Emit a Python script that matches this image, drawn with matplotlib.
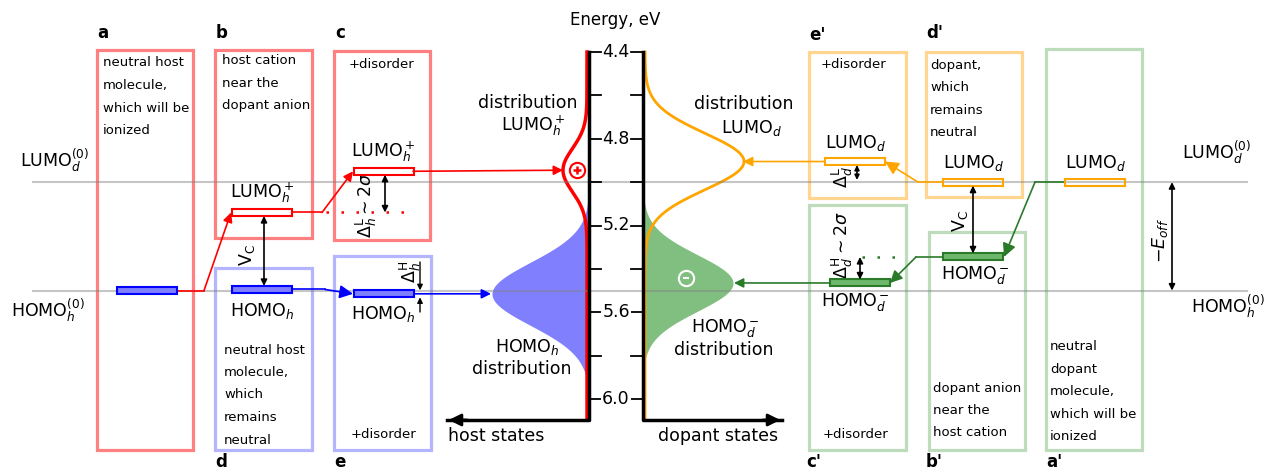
import numpy as np
import matplotlib.pyplot as plt
from matplotlib.patches import Rectangle

# reference levels (eV)
lumo_d0 = 5.0
homo_h0 = 5.5

# host levels, boxes a..e (eV)
host_homo_a = 5.5
host_lumo_b = 5.14
host_homo_d = 5.495
host_lumo_c = 4.95
host_homo_e = 5.515

# dopant levels, boxes a'..e' (eV)
dop_lumo_a = 5.0
dop_lumo_d = 5.0
dop_homo_b = 5.345
dop_lumo_e = 4.905
dop_homo_c = 5.465

# gaussian DOS: centre (eV), sigma (eV), peak width (px)
dos_lumo_h = (4.945, 0.10, 24)
dos_homo_h = (5.515, 0.145, 97)
dos_lumo_d = (4.905, 0.13, 99)
dos_homo_d = (5.465, 0.13, 90)

ticks = [4.4, 4.6, 4.8, 5.0, 5.2, 5.4, 5.6, 5.8, 6.0]
tick_labels = ['4.4', '', '4.8', '', '5.2', '', '5.6', '', '6.0']


def ey(py):
    # pixel row -> energy, used for layout only
    return 4.4 + (py - 52) / 216.875


fig = plt.figure(figsize=(12.65, 4.7), dpi=100)
ax = fig.add_axes([0, 0, 1, 1])
ax.set_xlim(0, 1265)
ax.set_ylim(ey(470), ey(0))
ax.axis('off')

RED = 'red'
BLUE = 'blue'
ORANGE = '#ffa500'
GREEN = '#2a7a2a'
FS = 12.5
FS_BOX = 9.5

xl, xr = 589, 643

# distributions
E = np.linspace(4.4, ey(420), 500)
g = lambda p: p[2] * np.exp(-(E - p[0]) ** 2 / (2 * p[1] ** 2))
ax.fill_betweenx(E, xl - g(dos_homo_h), xl, color='#8080ff', lw=0, zorder=1)
ax.fill_betweenx(E, xr, xr + g(dos_homo_d), color='#80bf80', lw=0, zorder=1)
ax.plot(xl - 2 - g(dos_lumo_h), E, color=RED, lw=2.5, zorder=2)
ax.plot(xr + 2 + g(dos_lumo_d), E, color=ORANGE, lw=2, zorder=2)

# reference lines
for lev in (lumo_d0, homo_h0):
    ax.plot([33, 1247], [lev, lev], color='gray', alpha=0.45, lw=1.5, zorder=3)

# energy axes
ax.plot([xl, xl, 447], [4.4, ey(420), ey(420)], color='k', lw=2.5, zorder=4)
ax.plot([xr, xr, 782], [4.4, ey(420), ey(420)], color='k', lw=2.5, zorder=4)
ax.annotate('', xy=(446, ey(420)), xytext=(470, ey(420)),
            arrowprops=dict(arrowstyle='-|>', color='k', lw=2, mutation_scale=18))
ax.annotate('', xy=(783, ey(420)), xytext=(760, ey(420)),
            arrowprops=dict(arrowstyle='-|>', color='k', lw=2, mutation_scale=18))
for t, lab in zip(ticks, tick_labels):
    ax.plot([xl, xl + 12], [t, t], color='k', lw=1.3, zorder=4)
    ax.plot([xr - 12, xr], [t, t], color='k', lw=1.3, zorder=4)
    if lab:
        ax.text(616, t, lab, fontsize=FS, ha='center', va='center', zorder=5,
                bbox=dict(fc='white', ec='none', pad=0.5))
ax.text(615, ey(20), 'Energy, eV', fontsize=FS - 0.5, ha='center', va='center')
ax.text(448, ey(436), 'host states', fontsize=FS, ha='left', va='center')
ax.text(658, ey(436), 'dopant states', fontsize=FS, ha='left', va='center')

# charge markers
ax.plot(577, ey(170), 'o', ms=11, mfc='white', mec=RED, mew=1.5, zorder=6)
ax.plot(577, ey(170), '+', ms=6, color=RED, mew=1.8, zorder=7)
ax.plot(686, ey(278), 'o', ms=11, mfc='none', mec='white', mew=1.5, zorder=6)
ax.plot(686, ey(278), '_', ms=4, color='white', mew=1.5, zorder=7)

# boxes: left, top, right, bottom (px), colour, letter, letter position
boxes = [
    (97, 50, 193, 450, '#ff8080', 'a', (103, 33)),
    (215, 50, 312, 238, '#ff8080', 'b', (222, 33)),
    (215, 268, 312, 450, '#b4b4ff', 'd', (221, 462)),
    (334, 51, 430, 240, '#ff8080', 'c', (340, 33)),
    (334, 256, 431, 450, '#b4b4ff', 'e', (340, 462)),
    (809, 52, 906, 198, '#ffd590', "e'", (817, 35)),
    (809, 205, 906, 450, '#bcdcbc', "c'", (814, 462)),
    (926, 52, 1022, 197, '#ffd590', "d'", (935, 33)),
    (929, 232, 1025, 450, '#bcdcbc', "b'", (934, 462)),
    (1046, 49, 1142, 450, '#bcdcbc', "a'", (1054, 462)),
]
for x0, y0, x1, y1, c, let, (lx, ly) in boxes:
    ax.add_patch(Rectangle((x0, ey(y0)), x1 - x0, ey(y1) - ey(y0), fill=False,
                           ec=c, lw=2.3, zorder=2))
    ax.text(lx, ey(ly), let, fontsize=12, fontweight='bold', ha='center', va='center')


def lines(x, y, txt, step=22.5):
    for i, s in enumerate(txt):
        ax.text(x, ey(y + i * step), s, fontsize=FS_BOX, ha='left', va='center')


lines(103, 63, ['neutral host', 'molecule,', 'which will be', 'ionized'])
lines(222, 61, ['host cation', 'near the', 'dopant anion'])
lines(224, 350, ['neutral host', 'molecule,', 'which', 'remains', 'neutral'])
lines(930, 65, ['dopant,', 'which', 'remains', 'neutral'])
lines(933, 388, ['dopant anion', 'near the', 'host cation'])
lines(1050, 347, ['neutral', 'dopant', 'molecule,', 'which will be', 'ionized'])
for x, y in [(382, 65), (383, 435), (853, 65), (856, 434)]:
    ax.text(x, ey(y), '+disorder', fontsize=FS_BOX, ha='center', va='center')

# level bars: left (px), energy, face, edge
bh = ey(59) - ey(52)
bars = [
    (117, host_homo_a, '#8080ff', BLUE),
    (232, host_lumo_b, 'none', RED),
    (232, host_homo_d, '#8080ff', BLUE),
    (354, host_lumo_c, 'none', RED),
    (354, host_homo_e, '#8080ff', BLUE),
    (825, dop_lumo_e, 'none', ORANGE),
    (943, dop_lumo_d, 'none', ORANGE),
    (1065, dop_lumo_a, 'none', ORANGE),
    (943, dop_homo_b, '#6db86d', GREEN),
    (830, dop_homo_c, '#6db86d', GREEN),
]
for x0, lev, fc, ec in bars:
    ax.barh(lev, 60, left=x0, height=bh, color=fc, edgecolor=ec, lw=1.5, zorder=5)


def path_arrow(xs, ys, c, ms=14, lw=1.2):
    ax.plot(xs[:-1], ys[:-1], color=c, lw=lw, zorder=4)
    ax.annotate('', xy=(xs[-1], ys[-1]), xytext=(xs[-2], ys[-2]),
                arrowprops=dict(arrowstyle='-|>', color=c, lw=lw, mutation_scale=ms,
                                shrinkA=0, shrinkB=0), zorder=4)


path_arrow([177, 204, 231], [host_homo_a, host_homo_a, host_lumo_b], RED)
path_arrow([292, 322, 353], [host_lumo_b, host_lumo_b, host_lumo_c], RED)
path_arrow([413, 563], [host_lumo_c, dos_lumo_h[0]], RED)
path_arrow([292, 325, 353], [host_homo_d, host_homo_d, host_homo_e], BLUE, ms=20)
path_arrow([413, 491], [host_homo_e, dos_homo_h[0]], BLUE)
path_arrow([825, 743], [dop_lumo_e, dos_lumo_d[0]], ORANGE)
path_arrow([943, 918, 885], [dop_lumo_d, dop_lumo_d, dop_lumo_e], ORANGE, ms=20)
path_arrow([1065, 1035, 1004], [dop_lumo_a, dop_lumo_a, dop_homo_b], GREEN, ms=20)
path_arrow([943, 916, 890], [dop_homo_b, dop_homo_b, dop_homo_c], GREEN, ms=18)
path_arrow([830, 734], [dop_homo_c, dos_homo_d[0]], GREEN)

# dotted guides
ax.plot([326, 412], [host_lumo_b, host_lumo_b], color=RED, lw=1.8, ls=(0, (1, 5)), zorder=3)
ax.plot([862, 906], [dop_homo_b, dop_homo_b], color=GREEN, lw=1.8, ls=(0, (1, 5)), zorder=3)


def dbl(x, y0, y1, ms=9):
    ax.annotate('', xy=(x, y1), xytext=(x, y0),
                arrowprops=dict(arrowstyle='<|-|>', color='k', lw=1.2, mutation_scale=ms,
                                shrinkA=0, shrinkB=0), zorder=6)


def one(x, y0, y1, ms=8):
    ax.annotate('', xy=(x, y1), xytext=(x, y0),
                arrowprops=dict(arrowstyle='-|>', color='k', lw=1.0, mutation_scale=ms,
                                shrinkA=0, shrinkB=0), zorder=6)


dbl(264, host_lumo_b + bh / 2, host_homo_d - bh / 2)
dbl(385, host_lumo_c + bh / 2, host_lumo_b)
one(420, ey(262), host_homo_e - bh / 2)
one(420, ey(312), host_homo_e + bh / 2)
dbl(857, dop_lumo_e + bh / 2, dop_lumo_d - 0.01, ms=7)
dbl(860, dop_homo_b, dop_homo_c - bh / 2)
dbl(973, dop_lumo_d + bh / 2, dop_homo_b - bh / 2)
dbl(1172, lumo_d0, homo_h0)

rot = [
    (247, 255, r'V$_\mathrm{C}$'),
    (366, 205, r'$\Delta_h^\mathrm{L}\sim 2\sigma$'),
    (410, 272, r'$\Delta_h^\mathrm{H}$'),
    (842, 177, r'$\Delta_d^\mathrm{L}$'),
    (842, 245, r'$\Delta_d^\mathrm{H}\sim 2\sigma$'),
    (960, 221, r'V$_\mathrm{C}$'),
    (1160, 240, r'$-E_{off}$'),
]
for x, y, s in rot:
    ax.text(x, ey(y), s, fontsize=FS, rotation=90, ha='center', va='center')

# level labels
labels = [
    (262, 193, r'LUMO$_h^+$'), (383, 152, r'LUMO$_h^+$'),
    (262, 311, r'HOMO$_h$'), (383, 314, r'HOMO$_h$'),
    (855, 143, r'LUMO$_d$'), (973, 163, r'LUMO$_d$'), (1095, 163, r'LUMO$_d$'),
    (855, 302, r'HOMO$_d^-$'), (975, 275, r'HOMO$_d^-$'),
    (528, 103, 'distribution'), (533, 126, r'LUMO$_h^+$'),
    (527, 347, r'HOMO$_h$'), (522, 369, 'distribution'),
    (744, 104, 'distribution'), (751, 128, r'LUMO$_d$'),
    (725, 328, r'HOMO$_d^-$'), (724, 350, 'distribution'),
    (55, 160, r'LUMO$_d^{(0)}$'), (48, 310, r'HOMO$_h^{(0)}$'),
    (1217, 152, r'LUMO$_d^{(0)}$'), (1228, 306, r'HOMO$_h^{(0)}$'),
]
for x, y, s in labels:
    ax.text(x, ey(y), s, fontsize=FS, ha='center', va='center')

plt.savefig('out.png', dpi=100)
